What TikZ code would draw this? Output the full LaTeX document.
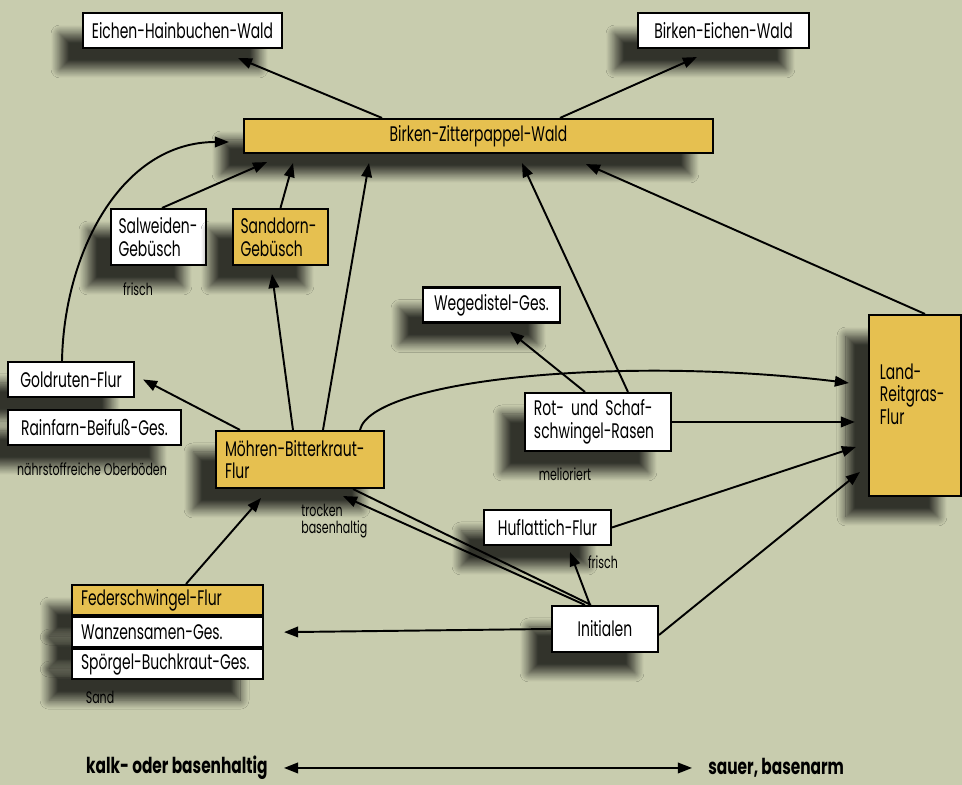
\documentclass[tikz,border=0pt]{standalone}
\usepackage{fontspec}
\setmainfont{Poppins}[FakeStretch=0.66]
\newfontfamily\achsefont{Poppins}[FakeStretch=0.7]
\usetikzlibrary{arrows.meta,shadows.blur}

\definecolor{paper}{RGB}{200,204,174}
\definecolor{ochre}{RGB}{230,192,80}

\tikzset{
  box/.style={draw=black, line width=1.2pt, fill=white, inner sep=0pt,
    font=\fontsize{12}{13}\selectfont,
    blur shadow={shadow xshift=-0.46cm, shadow yshift=-0.42cm,
      shadow blur radius=0.18cm, shadow blur steps=14, shadow opacity=75}},
  gelb/.style={box, fill=ochre},
  note/.style={font=\fontsize{9.5}{10}\selectfont, align=left, inner sep=0pt},
  conn/.style={line width=1.1pt},
  arr/.style={conn, -{Triangle[length=8pt,width=6pt]}},
  achse/.style={font=\achsefont\bfseries\fontsize{12.5}{15}\selectfont, inner sep=0pt},
}

\begin{document}
\begin{tikzpicture}[x=0.02cm, y=-0.02cm]
  % Hintergrund
  \fill[paper] (0,0) rectangle (962,785);

  % Waelder
  \node[box, minimum width=3.98cm, minimum height=0.70cm] (ehw) at (182.5,30.5) {Eichen-Hainbuchen-Wald};
  \node[box, minimum width=3.42cm, minimum height=0.70cm] (bew) at (723.5,30.5) {Birken-Eichen-Wald};
  \node[gelb, minimum width=9.38cm, minimum height=0.68cm] (bzw) at (478.5,136) {Birken-Zitterpappel-Wald};

  % Gebuesche
  \node[box, text width=1.6cm, inner xsep=0.15cm, minimum height=1.12cm, align=left] (salw) at (158.5,237) {Salweiden-\\Gebüsch};
  \node[gelb, text width=1.6cm, inner xsep=0.15cm, minimum height=1.12cm, align=left] (sand) at (280.5,237) {Sanddorn-\\Gebüsch};
  \node[note] (frischA) at (138,289) {frisch};

  % Fluren und Gesellschaften
  \node[box, minimum width=2.74cm, minimum height=0.70cm] (weg) at (491.5,305) {Wegedistel-Ges.};
  \node[box, minimum width=2.52cm, minimum height=0.70cm] (gold) at (71,379.5) {Goldruten-Flur};
  \node[box, minimum width=3.46cm, minimum height=0.70cm] (rain) at (94.5,427.5) {Rainfarn-Beifuß-Ges.};
  \node[note] (naehr) at (92,469) {nährstoffreiche Oberböden};
  \node[gelb, text width=3.0cm, inner xsep=0.18cm, minimum height=1.14cm, align=left] (moe) at (300,459.5) {Möhren-Bitterkraut-\\Flur};
  \node[note, anchor=west] (trocken) at (301,521) {trocken\\basenhaltig};
  \node[box, text width=2.56cm, inner xsep=0.18cm, minimum height=1.16cm, align=left] (rot) at (598,422) {Rot- und Schaf-\\schwingel-Rasen};
  \node[note] (melio) at (565,474) {melioriert};
  \node[gelb, text width=1.40cm, inner xsep=0.22cm, minimum height=3.62cm, align=left] (land) at (915,405.5) {Land-\\Reitgras-\\Flur\\\mbox{}};
  \node[box, minimum width=2.54cm, minimum height=0.70cm] (huf) at (547.5,527.5) {Huflattich-Flur};
  \node[note] (frischB) at (603,562) {frisch};

  % Sand
  \node[gelb, anchor=north west, text width=3.46cm, inner xsep=0.18cm, minimum height=0.60cm, align=left] (fed) at (71,584) {Federschwingel-Flur};
  \node[box, anchor=north west, text width=3.46cm, inner xsep=0.18cm, minimum height=0.60cm, align=left] (wanz) at (fed.south west) {Wanzensamen-Ges.};
  \node[box, anchor=north west, text width=3.46cm, inner xsep=0.18cm, minimum height=0.60cm, align=left] (spoe) at (wanz.south west) {Spörgel-Buchkraut-Ges.};
  \node[note] (sandl) at (100,697) {Sand};

  \node[box, minimum width=2.12cm, minimum height=0.92cm] (init) at (605,629) {Initialen};

  % Pfeile
  \draw[arr] ([xshift=-1.93cm]bzw.north) -- ([xshift=1.11cm,yshift=-0.18cm]ehw.south);
  \draw[arr] ([xshift=1.63cm]bzw.north) -- ([xshift=-0.53cm,yshift=-0.16cm]bew.south);
  \draw[arr] ([xshift=-0.18cm]gold.north) .. controls +(2,-108) and +(-108,0) .. ([xshift=-0.28cm,yshift=-0.12cm]bzw.west);
  \draw[arr] ([xshift=0.07cm]salw.north) -- ([xshift=-4.23cm,yshift=-0.16cm]bzw.south);
  \draw[arr] (sand.north) -- ([xshift=-3.71cm,yshift=-0.18cm]bzw.south);
  \draw[arr] ([xshift=0.46cm]moe.north) -- ([xshift=-2.19cm,yshift=-0.18cm]bzw.south);
  \draw[arr] ([xshift=-0.14cm]moe.north) -- ([xshift=-0.17cm,yshift=-0.16cm]sand.south);
  \draw[arr] ([xshift=0.60cm]rot.north) -- ([xshift=0.87cm,yshift=-0.18cm]bzw.south);
  \draw[arr] ([xshift=0.2cm]land.north) -- ([xshift=2.15cm,yshift=-0.2cm]bzw.south);
  \draw[arr] ([xshift=-0.26cm]rot.north) -- ([xshift=0.37cm,yshift=-0.16cm]weg.south);
  \draw[arr] ([xshift=-1.2cm]moe.north) -- ([xshift=0.16cm]gold.east);
  \draw[arr] ([xshift=1.2cm]moe.north) .. controls +(12,-50) and +(-231,-28) .. ([xshift=-0.38cm,yshift=0.45cm]land.west);
  \draw[arr] (rot.east) -- ([xshift=-0.26cm,yshift=-0.33cm]land.west);
  \draw[arr] (huf.east) -- ([xshift=-0.24cm,yshift=-0.83cm]land.west);
  \draw[arr] ([yshift=-0.12cm]init.east) -- ([xshift=-0.16cm,yshift=-1.33cm]land.west);
  \draw[arr] ([xshift=-0.3cm]init.north) -- ([xshift=0.45cm,yshift=-0.12cm]huf.south);
  \draw[arr] ([xshift=-0.4cm]init.north) -- ([xshift=0.86cm,yshift=-0.14cm]moe.south);
  \draw[conn] ([xshift=1.06cm]moe.south) -- ([xshift=-0.28cm]init.north);
  \draw[arr] (init.west) -- ([xshift=0.4cm]wanz.east);
  \draw[arr] ([xshift=0.37cm]fed.north) -- ([xshift=-0.78cm,yshift=-0.18cm]moe.south);

  % Achse
  \node[achse, anchor=east] (kalk) at (268,768) {kalk- oder basenhaltig};
  \node[achse, anchor=west] (sauer) at (708,768) {sauer, basenarm};
  \draw[conn, {Triangle[length=8pt,width=6pt]}-{Triangle[length=8pt,width=6pt]}, shorten <=0.32cm, shorten >=0.32cm] (kalk.east) -- (sauer.west);
\end{tikzpicture}
\end{document}
